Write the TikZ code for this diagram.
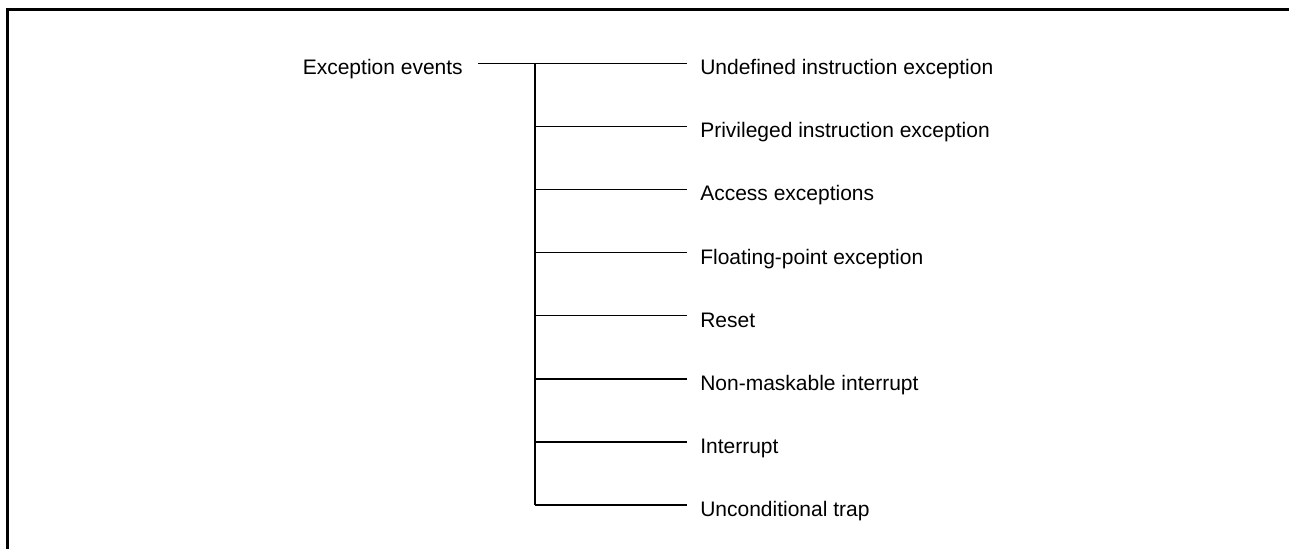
\documentclass[tikz,border=0pt]{standalone}
\usepackage{fontspec}
\setmainfont{Liberation Sans}
\begin{document}
\begin{tikzpicture}[x=0.75pt,y=-0.75pt,
  leaf/.style={anchor=base west,inner xsep=9.75pt,inner ysep=0pt,font=\fontsize{15.75pt}{18pt}\selectfont},
  rootlbl/.style={anchor=base east,inner xsep=11.25pt,inner ysep=0pt,font=\fontsize{15.75pt}{18pt}\selectfont},
  conn/.style={line width=1.1pt},
  frame/.style={line width=2.25pt}]
\useasboundingbox (0,0) rectangle (1289,549);
\draw[frame] (7.5,549) -- (7.5,9.5) -- (1289,9.5);
\node[rootlbl] (root) at (478,74.8) {Exception events};
\foreach \i/\txt in {0/Undefined instruction exception,1/Privileged instruction exception,2/Access exceptions,3/Floating-point exception,4/Reset,5/Non-maskable interrupt,6/Interrupt,7/Unconditional trap}{
  \coordinate (j\i) at (535,63.3+63.1*\i);
  \node[leaf] (l\i) at (687,74.8+63.1*\i) {\txt};
  \draw[conn] (j\i) -- (j\i -| l\i.west);
}
\draw[conn] (root.east |- j0) -- (j0);
\draw[conn] (j0) -- (j7);
\end{tikzpicture}
\end{document}
